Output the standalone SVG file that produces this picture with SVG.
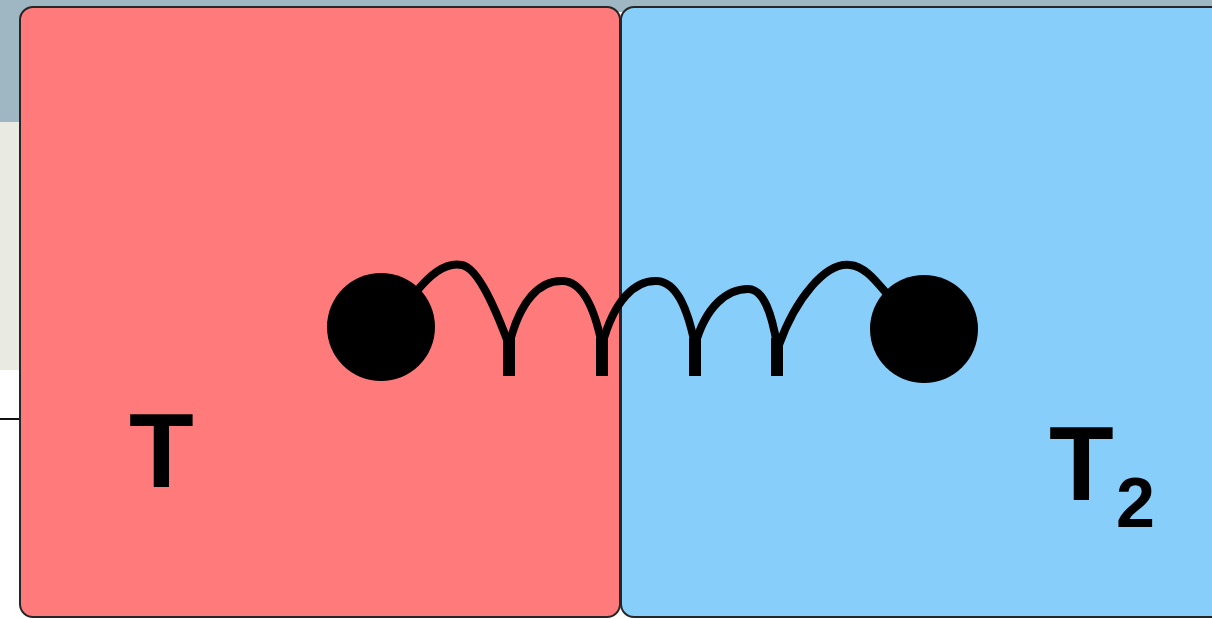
<svg xmlns="http://www.w3.org/2000/svg" width="1212" height="619" viewBox="0 0 1212 619">
  <style>
    .box { stroke: #262626; stroke-width: 2; }
    .coil { fill: none; stroke: #000; stroke-width: 8; stroke-linejoin: round; }
    .lbl { font-family: "Liberation Sans", Arial, sans-serif; font-weight: bold; fill: #000; }
  </style>
  <rect x="0" y="0" width="1212" height="619" fill="#ffffff"/>
  <rect x="0" y="0" width="1212" height="12" fill="#9fb7c2"/>
  <rect x="0" y="0" width="24" height="122" fill="#9fb7c2"/>
  <rect x="0" y="122" width="24" height="248" fill="#e9eae1"/>
  <line x1="0" y1="419" x2="22" y2="419" stroke="#111" stroke-width="2"/>

  <g id="hot-box">
    <rect class="box" x="20" y="7" width="600" height="610" rx="13" fill="#ff7b7b"/>
    <text class="lbl" x="129" y="487" font-size="106">T</text>
  </g>
  <g id="cold-box">
    <rect class="box" x="621" y="7" width="620" height="610" rx="13" fill="#87cefa"/>
    <text class="lbl" x="1049" y="500" font-size="106">T</text>
    <text class="lbl" x="1116" y="527" font-size="70">2</text>
  </g>

  <g id="connectors">
    <path class="coil" d="M416,292 C432,272 448,262 462,265 C478,268 496,310 509,345"/>
    <path class="coil" d="M509,345 C520,300 540,280 563,281 C583,282 595,310 602,345"/>
    <path class="coil" d="M602,345 C614,300 635,280 657,281 C677,282 688,310 695,345"/>
    <path class="coil" d="M695,345 C706,305 728,289 748,289 C764,289 772,315 777,345"/>
    <path class="coil" d="M779,345 C795,300 825,262 850,265 C864,266 875,280 887,294"/>
    <rect x="503" y="338" width="12" height="38"/>
    <rect x="596" y="338" width="12" height="38"/>
    <rect x="689" y="338" width="12" height="38"/>
    <rect x="771" y="338" width="12" height="38"/>
  </g>

  <g id="ball-left">
    <circle cx="381" cy="327" r="54" fill="#000"/>
  </g>
  <g id="ball-right">
    <circle cx="924" cy="329" r="54" fill="#000"/>
  </g>
</svg>
